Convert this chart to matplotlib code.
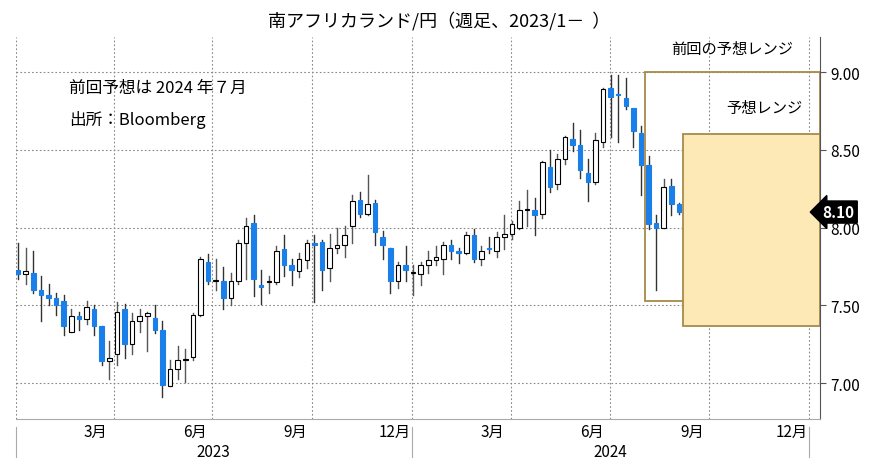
import matplotlib.pyplot as plt
import matplotlib.patches as patches
import numpy as np

plt.rcParams["font.family"] = ["Noto Sans CJK JP", "DejaVu Sans"]

# weekly OHLC, South African rand / yen (first week ends 2023-01-03 approx)
opens = [7.73, 7.70, 7.71, 7.60, 7.57, 7.55, 7.53, 7.33, 7.43, 7.41,
         7.48, 7.37, 7.14, 7.19, 7.48, 7.25, 7.40, 7.43, 7.42, 7.34,
         6.98, 7.09, 7.15, 7.17, 7.44, 7.78, 7.66, 7.66, 7.55, 7.66,
         7.90, 8.03, 7.63, 7.65, 7.65, 7.86, 7.76, 7.72, 7.79, 7.90,
         7.91, 7.74, 7.87, 7.89, 8.01, 8.18, 8.09, 8.16, 7.94, 7.87,
         7.66, 7.76, 7.71, 7.70, 7.76, 7.79, 7.80, 7.89, 7.85, 7.84,
         7.95, 7.80, 7.87, 7.85, 7.94, 7.96, 8.00, 8.11, 8.11, 8.09,
         8.39, 8.28, 8.44, 8.57, 8.53, 8.35, 8.29, 8.55, 8.90, 8.86,
         8.83, 8.77, 8.61, 8.40, 8.03, 8.00, 8.27, 8.15]
closes = [7.70, 7.72, 7.60, 7.57, 7.55, 7.50, 7.37, 7.43, 7.41, 7.49,
          7.37, 7.14, 7.16, 7.46, 7.25, 7.40, 7.43, 7.45, 7.34, 6.99,
          7.09, 7.15, 7.15, 7.44, 7.80, 7.66, 7.66, 7.55, 7.66, 7.90,
          8.01, 7.67, 7.62, 7.65, 7.85, 7.76, 7.73, 7.80, 7.90, 7.89,
          7.73, 7.87, 7.89, 7.95, 8.17, 8.09, 8.15, 7.97, 7.89, 7.66,
          7.76, 7.73, 7.71, 7.76, 7.79, 7.81, 7.89, 7.85, 7.84, 7.95,
          7.80, 7.85, 7.86, 7.94, 7.96, 8.02, 8.11, 8.12, 8.08, 8.42,
          8.26, 8.44, 8.58, 8.53, 8.37, 8.29, 8.56, 8.89, 8.84, 8.85,
          8.78, 8.62, 8.40, 8.02, 8.00, 8.26, 8.15, 8.10]
highs = [7.90, 7.87, 7.85, 7.69, 7.64, 7.58, 7.57, 7.48, 7.46, 7.53,
         7.50, 7.37, 7.27, 7.52, 7.51, 7.45, 7.48, 7.46, 7.50, 7.40,
         7.15, 7.24, 7.22, 7.45, 7.81, 7.83, 7.80, 7.75, 7.71, 7.92,
         8.06, 8.08, 7.73, 7.69, 7.88, 7.95, 7.80, 7.84, 7.92, 7.95,
         7.92, 7.96, 8.00, 8.01, 8.21, 8.23, 8.34, 8.18, 7.98, 7.87,
         7.78, 7.88, 7.76, 7.78, 7.85, 7.88, 7.91, 7.92, 7.87, 7.97,
         7.99, 7.88, 7.94, 7.97, 8.08, 8.04, 8.17, 8.24, 8.19, 8.43,
         8.50, 8.47, 8.59, 8.67, 8.63, 8.44, 8.61, 8.90, 8.98, 8.98,
         8.96, 8.64, 8.65, 8.46, 8.08, 8.31, 8.31, 8.16]
lows = [7.67, 7.64, 7.58, 7.40, 7.50, 7.44, 7.31, 7.33, 7.34, 7.38,
        7.31, 7.12, 7.03, 7.12, 7.16, 7.19, 7.33, 7.21, 7.32, 6.91,
        6.98, 7.03, 7.01, 7.15, 7.43, 7.64, 7.60, 7.48, 7.50, 7.64,
        7.67, 7.56, 7.51, 7.58, 7.64, 7.69, 7.63, 7.68, 7.74, 7.52,
        7.60, 7.66, 7.84, 7.81, 7.90, 8.07, 8.08, 7.89, 7.80, 7.58,
        7.61, 7.66, 7.57, 7.63, 7.71, 7.76, 7.70, 7.80, 7.77, 7.83,
        7.78, 7.76, 7.84, 7.81, 7.86, 7.93, 7.99, 8.01, 7.95, 8.06,
        8.23, 8.25, 8.41, 8.49, 8.32, 8.17, 8.28, 8.52, 8.58, 8.55,
        8.76, 8.52, 8.21, 7.99, 7.60, 8.00, 8.08, 8.09]

prev_range = (7.53, 9.00)
new_range = (7.37, 8.60)
last_value = 8.10

n = len(opens)
days = np.array([2 + 7 * i for i in range(n)])  # days since 2023-01-01

fig = plt.figure(figsize=(8.79, 4.77), dpi=100)
ax = fig.add_axes([16 / 879, 57 / 477, 804 / 879, 382 / 477])
ax.set_xlim(0, 741)
ax.set_ylim(6.77, 9.225)

# grid
for y in [7.0, 7.5, 8.0, 8.5, 9.0]:
    ax.axhline(y, color="#888888", ls=(0, (1.5, 2)), lw=0.8, zorder=0)
quarter_starts = [0, 90, 181, 273, 365, 456, 547, 639, 731]
for d in quarter_starts:
    ax.axvline(d, color="#888888", ls=(0, (1.5, 2)), lw=0.8, zorder=0)

# range boxes
ax.add_patch(patches.Rectangle((580, prev_range[0]), 741 - 580, prev_range[1] - prev_range[0],
                               facecolor="none", edgecolor="#a88a4a", lw=1.3, zorder=1))
ax.add_patch(patches.Rectangle((615, new_range[0]), 741 - 615, new_range[1] - new_range[0],
                               facecolor="#fde9b5", edgecolor="#a88a4a", lw=1.3, zorder=1))

# candles
w = 4.2
for x, o, c, h, l in zip(days, opens, closes, highs, lows):
    up = c >= o
    ax.plot([x, x], [l, h], color="#555555" if up else "#333333", lw=1, zorder=2)
    lo, hi = min(o, c), max(o, c)
    height = max(hi - lo, 0.006)
    ax.add_patch(patches.Rectangle((x - w / 2, lo), w, height,
                                   facecolor="white" if up else "#1a7fe8",
                                   edgecolor="black" if up else "#1a7fe8", lw=0.8, zorder=3))

# axes styling
for s in ["top", "left"]:
    ax.spines[s].set_visible(False)
ax.spines["bottom"].set_color("#aaaaaa")
ax.spines["right"].set_color("#555555")
ax.yaxis.tick_right()
ax.set_yticks([7.0, 7.5, 8.0, 8.5, 9.0])
ax.set_yticklabels(["7.00", "7.50", "8.00", "8.50", "9.00"], fontsize=11)
ax.tick_params(axis="y", length=4, color="#555555")

month_mid = [73, 165, 257, 349, 439, 531, 623, 715]
ax.set_xticks(month_mid)
ax.set_xticklabels(["3月", "6月", "9月", "12月"] * 2, fontsize=11)
ax.tick_params(axis="x", length=0, pad=3)
for d in [0, 365, 731]:
    ax.plot([d, d], [-0.1, -0.02], transform=ax.get_xaxis_transform(), color="#aaaaaa",
            lw=0.8, clip_on=False)
ax.text(182, -0.085, "2023", transform=ax.get_xaxis_transform(), ha="center", va="center", fontsize=11)
ax.text(548, -0.085, "2024", transform=ax.get_xaxis_transform(), ha="center", va="center", fontsize=11)

# last value label
ax.text(743, last_value, f"{last_value:.2f}", color="white", fontsize=11, fontweight="bold",
        ha="left", va="center", clip_on=False,
        bbox=dict(boxstyle="larrow,pad=0.2", facecolor="black", edgecolor="black"))

# annotations
ax.text(49, 8.90, "前回予想は 2024 年７月", fontsize=12, va="center")
ax.text(49, 8.70, "出所：Bloomberg", fontsize=12, va="center")
ax.text(660, 9.15, "前回の予想レンジ", fontsize=11, ha="center", va="center")
ax.text(690, 8.77, "予想レンジ", fontsize=11, ha="center", va="center")

fig.text(0.5, 0.955, "南アフリカランド/円（週足、2023/1－  ）", ha="center", va="center", fontsize=13)

fig.savefig("out.png", dpi=100)
